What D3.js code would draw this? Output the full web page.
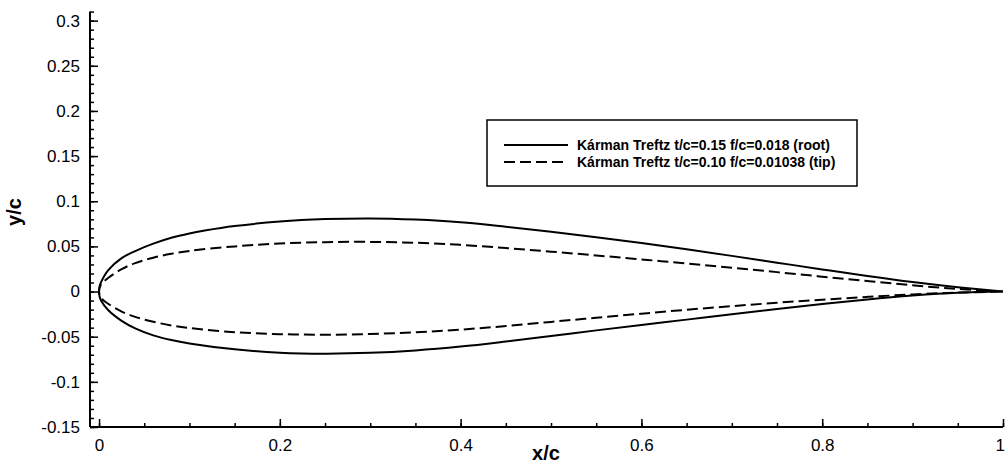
<!DOCTYPE html>
<html>
<head>
<meta charset="utf-8">
<script src="https://cdn.jsdelivr.net/npm/d3@7"></script>
<style>
  html, body { margin: 0; padding: 0; background: #fff; }
  svg { display: block; }
  text { font-family: "Liberation Sans", Arial, sans-serif; fill: #000; }
</style>
</head>
<body>
<svg id="chart" width="1005" height="465"></svg>
<script>
// ---- Data ----
const seriesNames = [
  "Kárman Treftz t/c=0.15 f/c=0.018 (root)",
  "Kárman Treftz t/c=0.10 f/c=0.01038 (tip)"
];
// root airfoil [x/c, y/c], leading edge -> trailing edge
const rootUpper = [
  [0,0],[0.0006,0.006],[0.0025,0.011],[0.01,0.0235],[0.025,0.037],[0.04,0.0448],
  [0.06,0.053],[0.08,0.0595],[0.1,0.0643],[0.117,0.0675],[0.15,0.0725],[0.2,0.0775],
  [0.25,0.0802],[0.3,0.0810],[0.35,0.0797],[0.4,0.0768],[0.45,0.0718],[0.5,0.0662],
  [0.55,0.0602],[0.6,0.0537],[0.65,0.0468],[0.7,0.0395],[0.75,0.0320],[0.8,0.0245],
  [0.85,0.0172],[0.9,0.0105],[0.95,0.0048],[1.0,0]
];
const rootLower = [
  [0,0],[0.0006,-0.0055],[0.0025,-0.0105],[0.01,-0.0205],[0.025,-0.0325],[0.04,-0.0408],
  [0.06,-0.0485],[0.08,-0.0537],[0.1,-0.0575],[0.15,-0.0640],[0.2,-0.0677],[0.25,-0.0688],
  [0.3,-0.0679],[0.35,-0.0652],[0.4,-0.0609],[0.45,-0.0553],[0.5,-0.0492],[0.55,-0.0430],
  [0.6,-0.0370],[0.65,-0.0311],[0.7,-0.0251],[0.75,-0.0193],[0.8,-0.0138],[0.85,-0.0087],
  [0.9,-0.0045],[0.95,-0.0014],[1.0,0]
];
// tip airfoil
const tipUpper = [
  [0,0],[0.0006,0.004],[0.0025,0.0082],[0.01,0.0150],[0.025,0.0248],[0.04,0.0315],
  [0.06,0.0375],[0.08,0.0418],[0.1,0.0450],[0.15,0.0500],[0.2,0.0532],[0.25,0.0547],
  [0.3,0.0550],[0.35,0.0540],[0.4,0.0517],[0.45,0.0482],[0.5,0.0442],[0.55,0.0400],
  [0.6,0.0356],[0.65,0.0311],[0.7,0.0264],[0.75,0.0215],[0.8,0.0165],[0.85,0.0116],
  [0.9,0.0069],[0.95,0.0029],[1.0,0]
];
const tipLower = [
  [0,0],[0.0006,-0.0038],[0.0025,-0.0075],[0.01,-0.0135],[0.025,-0.0222],[0.04,-0.0280],
  [0.06,-0.0335],[0.08,-0.0375],[0.1,-0.0403],[0.15,-0.0450],[0.2,-0.0472],[0.25,-0.0478],
  [0.3,-0.0470],[0.35,-0.0452],[0.4,-0.0422],[0.45,-0.0382],[0.5,-0.0336],[0.55,-0.0290],
  [0.6,-0.0245],[0.65,-0.0202],[0.7,-0.0162],[0.75,-0.0124],[0.8,-0.0090],[0.85,-0.0059],
  [0.9,-0.0032],[0.95,-0.0012],[1.0,0]
];
const xTickValues = [0, 0.2, 0.4, 0.6, 0.8, 1];
const xTickLabels = ["0", "0.2", "0.4", "0.6", "0.8", "1"];
const yTickValues = [-0.15, -0.1, -0.05, 0, 0.05, 0.1, 0.15, 0.2, 0.25, 0.3];
const yTickLabels = ["-0.15", "-0.1", "-0.05", "0", "0.05", "0.1", "0.15", "0.2", "0.25", "0.3"];
const xMinorTicks = d3.range(0, 21).map(i => i * 0.05);
const yMinorTicks = d3.range(-15, 32).map(i => i / 100);

// ---- Layout ----
const svg = d3.select("#chart");
const x = d3.scaleLinear().domain([-0.01, 1.0]).range([90, 1003]);
const y = d3.scaleLinear().domain([-0.15, 0.31]).range([427, 11.6]);

// ---- Curves ----
const line = d3.line().x(d => x(d[0])).y(d => y(d[1])).curve(d3.curveCatmullRom.alpha(0.5));
function outline(upper, lower) {
  return upper.slice().reverse().concat(lower.slice(1));
}
svg.append("path").attr("d", line(outline(rootUpper, rootLower)))
  .attr("fill", "none").attr("stroke", "#000").attr("stroke-width", 2);
svg.append("path").attr("d", line(outline(tipUpper, tipLower)))
  .attr("fill", "none").attr("stroke", "#000").attr("stroke-width", 2)
  .attr("stroke-dasharray", "11,5");

// ---- Axes ----
const gx = svg.append("g").attr("transform", `translate(0,${y(-0.15)})`);
gx.call(d3.axisBottom(x).tickValues(xMinorTicks).tickSize(-4).tickFormat(""));
gx.call(g => g.select(".domain").remove());
const gx2 = svg.append("g").attr("transform", `translate(0,${y(-0.15)})`);
gx2.call(d3.axisBottom(x).tickValues(xTickValues).tickSize(-8).tickPadding(12)
  .tickFormat((d, i) => xTickLabels[i]));
gx2.select(".domain").attr("d", `M${x(-0.01)},0H${x(1.0)}`);

const gy = svg.append("g").attr("transform", `translate(${x(-0.01)},0)`);
gy.call(d3.axisLeft(y).tickValues(yMinorTicks).tickSize(-4).tickFormat(""));
gy.call(g => g.select(".domain").remove());
const gy2 = svg.append("g").attr("transform", `translate(${x(-0.01)},0)`);
gy2.call(d3.axisLeft(y).tickValues(yTickValues).tickSize(-8).tickPadding(10)
  .tickFormat((d, i) => yTickLabels[i]));
gy2.select(".domain").attr("d", `M0,${y(0.31)}V${y(-0.15)}`);

svg.selectAll("g").attr("font-size", 18).attr("font-family", '"Liberation Sans", Arial, sans-serif');
svg.selectAll(".domain").attr("stroke", "#000").attr("stroke-width", 2);
svg.selectAll(".tick line").attr("stroke", "#000").attr("stroke-width", 1.5);
svg.selectAll(".tick text").style("font-size", "17px").attr("fill", "#000");
gy2.selectAll(".tick text").attr("x", -10);
gx2.selectAll(".tick text").filter((d, i) => i === xTickValues.length - 1).attr("dx", "-0.2em");

// axis titles
svg.append("text").attr("x", 546).attr("y", 460).attr("text-anchor", "middle")
  .style("font-size", "20px").style("font-weight", "bold").text("x/c");
svg.append("text").attr("transform", "translate(21,212) rotate(-90)").attr("text-anchor", "middle")
  .style("font-size", "20px").style("font-weight", "bold").text("y/c");

// ---- Legend ----
const leg = svg.append("g");
leg.append("rect").attr("x", 487).attr("y", 120).attr("width", 370).attr("height", 66)
  .attr("fill", "#fff").attr("stroke", "#000").attr("stroke-width", 1.5);
const legDash = [null, "11,5"];
seriesNames.forEach((name, i) => {
  const ly = 145 + i * 17;
  leg.append("line").attr("x1", 504).attr("x2", 568).attr("y1", ly).attr("y2", ly)
    .attr("stroke", "#000").attr("stroke-width", 2)
    .attr("stroke-dasharray", legDash[i]);
  leg.append("text").attr("x", 577).attr("y", ly).attr("dy", "0.35em")
    .style("font-size", "14px").style("font-weight", "bold").text(name);
});
</script>
</body>
</html>
